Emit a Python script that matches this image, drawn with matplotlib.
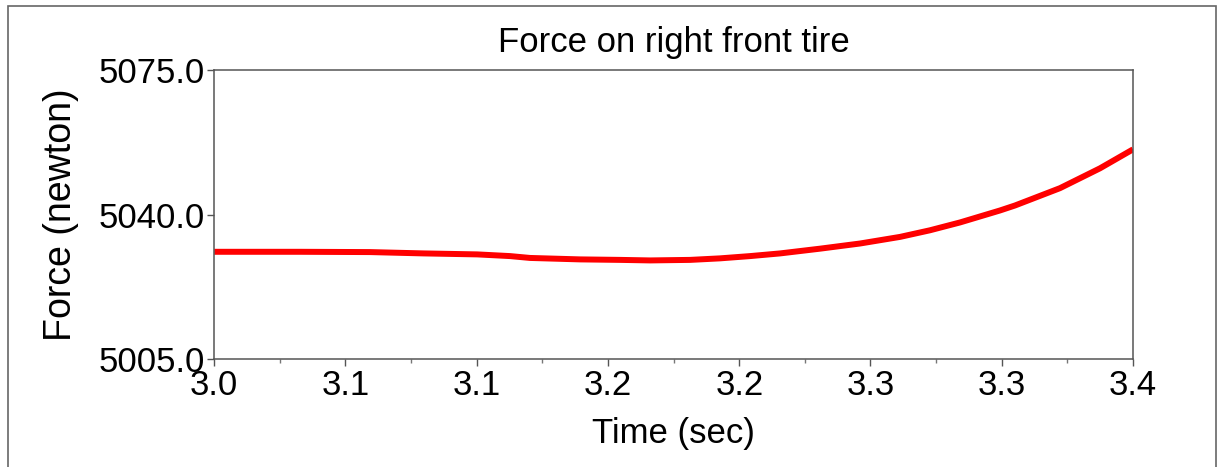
import matplotlib.pyplot as plt
from matplotlib.patches import Rectangle
from matplotlib.ticker import FixedLocator, FixedFormatter

plt.rcParams['font.family'] = ['Liberation Sans', 'DejaVu Sans']

# values
time = [3.0000, 3.0374, 3.0679, 3.0910, 3.1145, 3.1288, 3.1375, 3.1593, 3.1767,
        3.1898, 3.2072, 3.2202, 3.2333, 3.2464, 3.2638, 3.2812, 3.2986, 3.3116,
        3.3247, 3.3421, 3.3486, 3.3682, 3.3856, 3.4000]
force = [5030.99, 5030.99, 5030.92, 5030.60, 5030.36, 5029.95, 5029.50, 5029.15, 5029.03,
         5028.90, 5029.03, 5029.40, 5029.95, 5030.60, 5031.75, 5033.00, 5034.60, 5036.20,
         5038.10, 5041.00, 5042.20, 5046.40, 5051.20, 5055.80]

x_ticks = [3.0, 3.0571, 3.1143, 3.1714, 3.2286, 3.2857, 3.3429, 3.4]
x_labels = ['3.0', '3.1', '3.1', '3.2', '3.2', '3.3', '3.3', '3.4']
y_ticks = [5005.0, 5040.0, 5075.0]
y_labels = ['5005.0', '5040.0', '5075.0']

fig = plt.figure(figsize=(12.17, 4.67), dpi=100)
ax = fig.add_axes([0.176, 0.231, 0.755, 0.619])

ax.plot(time, force, color='#ff0000', lw=4.3, solid_capstyle='butt', solid_joinstyle='round')

ax.set_xlim(3.0, 3.4)
ax.set_ylim(5005, 5075)
ax.xaxis.set_major_locator(FixedLocator(x_ticks))
ax.xaxis.set_major_formatter(FixedFormatter(x_labels))
minor = [(a + b) / 2 for a, b in zip(x_ticks[:-1], x_ticks[1:])]
ax.xaxis.set_minor_locator(FixedLocator(minor))
ax.yaxis.set_major_locator(FixedLocator(y_ticks))
ax.yaxis.set_major_formatter(FixedFormatter(y_labels))

for s in ax.spines.values():
    s.set_color('#555555')
    s.set_linewidth(1.1)
ax.tick_params(axis='both', which='major', labelsize=25, length=5, width=1, color='#555555', pad=2)
ax.tick_params(axis='x', which='minor', length=3, width=1, color='#777777')

ax.set_title('Force on right front tire', fontsize=25, pad=13)
ax.set_xlabel('Time (sec)', fontsize=25, labelpad=11)
ax.set_ylabel('Force (newton)', fontsize=27, labelpad=14)

fig.patches.append(Rectangle((8 / 1217, -0.05), 1208 / 1217, 1.05 - 6 / 467,
                             transform=fig.transFigure, fill=False,
                             edgecolor='#666666', lw=1.2))

fig.savefig('out.png', dpi=100)
